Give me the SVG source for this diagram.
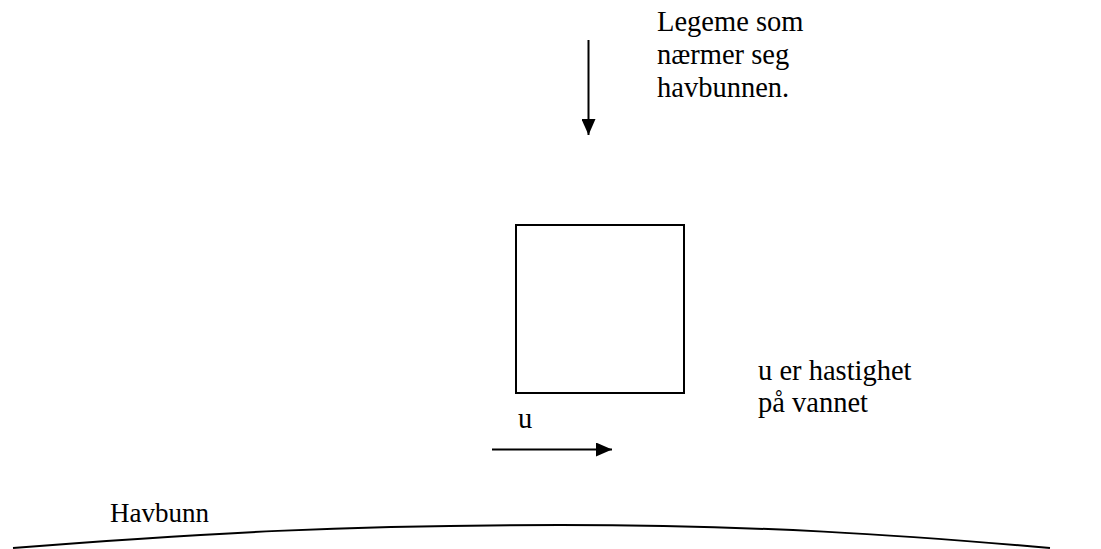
<svg xmlns="http://www.w3.org/2000/svg" width="1101" height="549" viewBox="0 0 1101 549">
<style>
.t{font-family:'Liberation Serif','Times New Roman','DejaVu Serif',serif;font-size:28.5px;fill:#000}
.ln{stroke:#000;stroke-width:2;fill:none}
</style>
<defs>
<marker id="ah" markerUnits="userSpaceOnUse" markerWidth="16" markerHeight="14" refX="16" refY="7" orient="auto">
<path d="M0,0 L16,7 L0,14 Z" fill="#000"/>
</marker>
</defs>
<rect width="1101" height="549" fill="#fff"/>
<g id="body">
<rect x="516" y="225" width="168" height="168" class="ln"/>
</g>
<g id="label-body" font-family="Liberation Serif, serif">
<text class="t" x="657" y="31">Legeme som</text>
<text class="t" x="657" y="64">nærmer seg</text>
<text class="t" x="657" y="97">havbunnen.</text>
</g>
<g id="label-u" font-family="Liberation Serif, serif">
<text class="t" x="518" y="428">u</text>
</g>
<g id="label-speed" font-family="Liberation Serif, serif">
<text class="t" x="758" y="380">u er hastighet</text>
<text class="t" x="758" y="412">på vannet</text>
</g>
<g id="seabed" font-family="Liberation Serif, serif">
<path d="M13,548 C200,533 350,525 560,525 C760,525 900,535 1050,548" class="ln"/>
<text class="t" x="110" y="522" style="font-size:27px">Havbunn</text>
</g>
<g id="connectors">
<line x1="588.5" y1="40" x2="588.5" y2="135" class="ln" marker-end="url(#ah)"/>
<line x1="492" y1="449.5" x2="612" y2="449.5" class="ln" marker-end="url(#ah)"/>
</g>
</svg>
